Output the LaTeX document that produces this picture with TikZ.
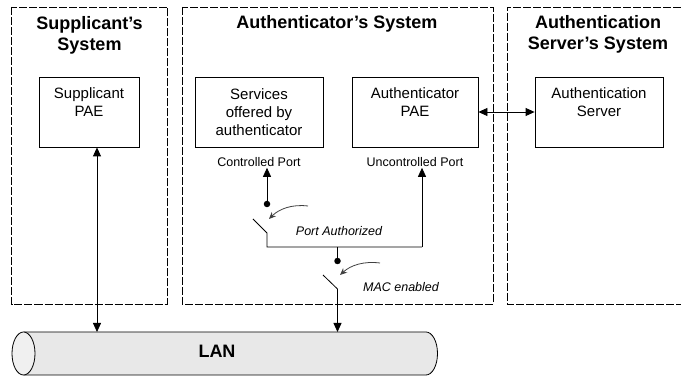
\documentclass[tikz,border=0pt]{standalone}
\usepackage{fontspec}
\setmainfont{Liberation Sans}
\usetikzlibrary{arrows.meta}
\begin{document}
\begin{tikzpicture}[x=1pt,y=-1pt,
  sysbox/.style={draw, dash pattern=on 8pt off 2pt, line width=0.6pt},
  pbox/.style={draw, line width=0.8pt, minimum height=70pt, inner sep=0pt},
  btext/.style={anchor=north, inner sep=0pt, align=center,
    font=\fontsize{15}{18}\selectfont},
  title/.style={align=center, inner sep=0pt,
    font=\bfseries\fontsize{18}{21}\selectfont},
  portlbl/.style={inner sep=1pt, font=\fontsize{12.5}{14}\selectfont},
  swlbl/.style={inner sep=1pt, font=\itshape\fontsize{12.5}{14}\selectfont},
  wire/.style={line width=0.8pt},
  tip/.style={-{Triangle[length=9pt,width=8pt]}},
  dtip/.style={{Triangle[length=9pt,width=8pt]}-{Triangle[length=9pt,width=8pt]}},
  hint/.style={line width=0.8pt, black!75, -{Stealth[length=7pt,width=6pt]}},
  dot/.style={circle, fill, inner sep=0pt, minimum size=6.5pt}
]
\useasboundingbox (0,0) rectangle (681,379);

% system boundaries
\draw[sysbox] (11.5,7) rectangle (167,304);
\draw[sysbox] (182,7) rectangle (493,304);
\draw[sysbox] (681,7) -- (507,7) -- (507,304) -- (681,304);

% system titles
\node[title] (tsup) at (89.5,35) {Supplicant’s\\System};
\node[title] (tauth) at (337,24) {Authenticator’s System};
\node[title] (tserv) at (598,34) {Authentication\\Server’s System};

% entity boxes
\node[pbox, minimum width=100pt] (sup) at (89,112) {};
\node[btext] at ([yshift=-11pt]sup.north) {Supplicant\\PAE};
\node[pbox, minimum width=128pt] (svc) at (259,112.5) {};
\node[btext] at ([yshift=-11pt]svc.north) {Services\\offered by\\authenticator};
\node[pbox, minimum width=126pt] (apae) at (415,112) {};
\node[btext] at ([yshift=-11pt]apae.north) {Authenticator\\PAE};
\node[pbox, minimum width=128pt] (srv) at (599,112) {};
\node[btext] at ([yshift=-11pt]srv.north) {Authentication\\Server};

% port labels
\node[portlbl] (cport) at (259,162) {Controlled Port};
\node[portlbl] (uport) at (415,162) {Uncontrolled Port};

% LAN cylinder
\fill[black!9] (23.5,332) -- (426,332)
  arc[start angle=90, end angle=-90, x radius=11.5pt, y radius=21.5pt]
  -- (23.5,375)
  arc[start angle=270, end angle=90, x radius=11.5pt, y radius=21.5pt] -- cycle;
\draw[wire] (23.5,332) -- (426,332)
  arc[start angle=90, end angle=-90, x radius=11.5pt, y radius=21.5pt]
  -- (23.5,375);
\draw[wire, fill=black!6] (23.5,353.5) ellipse[x radius=11.5pt, y radius=21.5pt];
\node[font=\bfseries\fontsize{18}{21}\selectfont] (lan) at (217,351) {LAN};
\coordinate (lansup) at (97,332);
\coordinate (lanauth) at (337.5,332);

% authenticator switching
\node[dot] (d1) at (267,204) {};
\coordinate (b1a) at (253,219);
\coordinate (b1b) at (267,233);
\coordinate (j1) at (267,247);
\coordinate (j2) at (422,247);
\coordinate (jm) at (337.5,247);
\node[dot] (d2) at (337.5,261) {};
\coordinate (b2a) at (323,275);
\coordinate (b2b) at (337.5,289);

\draw[wire, tip] (d1.center) -- (d1.center |- cport.south);
\draw[wire] (b1a) -- (b1b) -- (j1) -- (j2);
\draw[wire, tip] (j2) -- (j2 |- uport.south);
\draw[wire] (jm) -- (d2.center);
\draw[wire] (b2a) -- (b2b);
\draw[wire, tip] (b2b) -- (lanauth);

\draw[hint] (308,206) .. controls (292,204) and (279,209) .. (269,219);
\draw[hint] (380,263) .. controls (364,261) and (351,265) .. (340,275);

\node[swlbl] (pauth) at (339,231) {Port Authorized};
\node[swlbl] (macen) at (401,287) {MAC enabled};

% message paths
\draw[wire, dtip] (sup.south -| lansup) -- (lansup);
\draw[wire, dtip] (apae.east) -- (srv.west);
\end{tikzpicture}
\end{document}
